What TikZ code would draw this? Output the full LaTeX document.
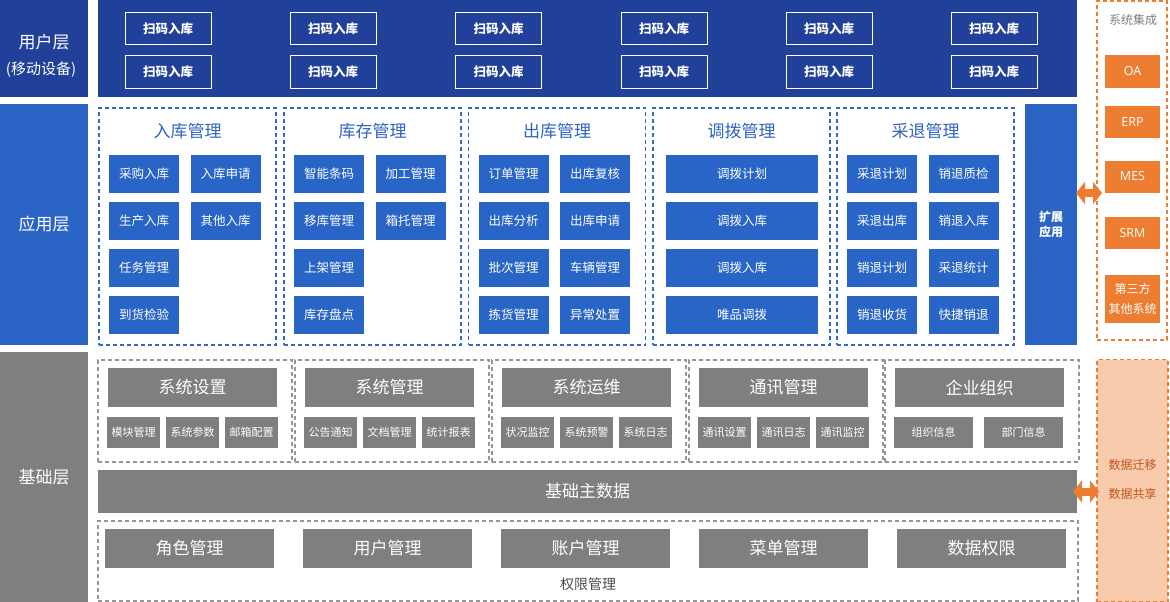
\documentclass[tikz,border=0pt]{standalone}
\usepackage{fontspec}
\setmainfont{Noto Sans CJK SC}
\newfontfamily\latinsf{Open Sans}
\usetikzlibrary{arrows.meta}
\definecolor{udark}{RGB}{33,64,154}
\definecolor{appblue}{RGB}{42,100,197}
\definecolor{boxblue}{RGB}{41,101,198}
\definecolor{titleblue}{RGB}{46,100,192}
\definecolor{dashblue}{RGB}{50,105,195}
\definecolor{basegray}{RGB}{127,127,127}
\definecolor{dashgray}{RGB}{150,150,150}
\definecolor{orng}{RGB}{237,125,49}
\definecolor{lorng}{RGB}{248,203,173}
\definecolor{brown}{RGB}{192,86,26}
\newcommand{\fsz}[1]{\fontsize{#1}{#1}\selectfont}
\tikzset{
  every node/.style={inner sep=0pt, outer sep=0pt},
  layer/.style={fill=#1, draw=none},
  lbltext/.style={text=white, font=\fsz{17}},
  ubtn/.style={draw=white, line width=1pt, minimum width=86pt, minimum height=32pt, text=white, font=\fsz{12.5}\bfseries},
  grp/.style={draw=dashblue, line width=1.2pt, dash pattern=on 4pt off 3pt, minimum width=177pt, minimum height=237pt},
  gtitle/.style={text=titleblue, font=\fsz{17}},
  abox/.style={fill=boxblue, minimum width=70pt, minimum height=38pt, text=white, font=\fsz{12.5}},
  wbox/.style={abox, minimum width=152pt},
  bgrp/.style={draw=dashgray, line width=1.2pt, dash pattern=on 4pt off 3pt, minimum width=194pt, minimum height=102pt},
  bhead/.style={fill=basegray, minimum width=169pt, minimum height=39pt, text=white, font=\fsz{17}},
  bsub/.style={fill=basegray, minimum width=53pt, minimum height=31pt, text=white, font=\fsz{11}},
  obox/.style={fill=orng, minimum width=55pt, minimum height=32pt, text=white, font=\fsz{12}},
  darrow/.style={draw=orng, line width=8pt, {Triangle[width=22pt,length=9pt]}-{Triangle[width=22pt,length=9pt]}},
}
\begin{document}
\begin{tikzpicture}[x=1pt,y=-1pt]
\useasboundingbox (0,0) rectangle (1170,602);
% left layer labels
\node[layer=udark, minimum width=88pt, minimum height=97pt] (lu) at (44,48.5) {};
\node[lbltext] (lu1) at (44,42) {用户层};
\node[text=white, font=\fsz{15}] (lu2) at (41,70) {(移动设备)};
\node[layer=appblue, minimum width=88pt, minimum height=241pt] (la) at (44,224.5) {};
\node[lbltext] (la1) at (44,224.5) {应用层};
\node[layer=basegray, minimum width=88pt, minimum height=250pt] (lb) at (44,477) {};
\node[lbltext] (lb1) at (44,477) {基础层};
% user layer
\node[layer=udark, minimum width=979pt, minimum height=97pt] (ub) at (587.5,48.5) {};
\foreach \x [count=\i] in {168,333,498.5,664,829,994} {
  \node[ubtn] (ua\i) at (\x,29) {扫码入库};
  \node[ubtn] (ub\i) at (\x,72) {扫码入库};
}
% application layer groups
\foreach \x/\t [count=\g] in {99/入库管理,284/库存管理,468.5/出库管理,653/调拨管理,837/采退管理} {
  \node[grp] (g\g) at (\x+88.5,226.5) {};
  \node[gtitle] (gt\g) at (\x+88.5,131) {\t};
}
\foreach \t [count=\r] in {采购入库,生产入库,任务管理,到货检验} \node[abox] (a1l\r) at (144,126.5+47*\r) {\t};
\foreach \t [count=\r] in {入库申请,其他入库} \node[abox] (a1r\r) at (225.5,126.5+47*\r) {\t};
\foreach \t [count=\r] in {智能条码,移库管理,上架管理,库存盘点} \node[abox] (a2l\r) at (329,126.5+47*\r) {\t};
\foreach \t [count=\r] in {加工管理,箱托管理} \node[abox] (a2r\r) at (410.5,126.5+47*\r) {\t};
\foreach \t [count=\r] in {订单管理,出库分析,批次管理,拣货管理} \node[abox] (a3l\r) at (513.5,126.5+47*\r) {\t};
\foreach \t [count=\r] in {出库复核,出库申请,车辆管理,异常处置} \node[abox] (a3r\r) at (595,126.5+47*\r) {\t};
\foreach \t [count=\r] in {调拨计划,调拨入库,调拨入库,唯品调拨} \node[wbox] (a4\r) at (742,126.5+47*\r) {\t};
\foreach \t [count=\r] in {采退计划,采退出库,销退计划,销退收货} \node[abox] (a5l\r) at (882,126.5+47*\r) {\t};
\foreach \t [count=\r] in {销退质检,销退入库,采退统计,快捷销退} \node[abox] (a5r\r) at (963.5,126.5+47*\r) {\t};
% extension
\node[layer=appblue, minimum width=52pt, minimum height=241pt, text=white, font=\fsz{12}\bfseries, align=center] (ext) at (1051,224.5) {扩展\\[3pt]应用};
% system integration
\node[draw=orng, line width=1.2pt, dash pattern=on 4pt off 3pt, minimum width=70pt, minimum height=339pt] (sys) at (1132,170.5) {};
\node[text=basegray, font=\fsz{12}] (syst) at (1133,20) {系统集成};
\node[obox, font=\latinsf\fsz{12.5}] (oa) at (1132.5,71.5) {OA};
\node[obox, font=\latinsf\fsz{12.5}] (erp) at (1132.5,122) {ERP};
\node[obox, font=\latinsf\fsz{12.5}] (mes) at (1132.5,176.5) {MES};
\node[obox, font=\latinsf\fsz{12.5}] (srm) at (1132.5,233) {SRM};
\node[obox, minimum height=48pt, align=center] (oth) at (1132.5,299) {第三方\\[8pt]其他系统};
\draw[darrow, shorten <=-1pt, shorten >=-5pt] (ext.east |- 0,193) -- (sys.west |- 0,193);
% base layer groups
\foreach \x/\t [count=\g] in {98/系统设置,295/系统管理,492/系统运维,689/通讯管理,885/企业组织} {
  \node[bgrp] (bg\g) at (\x+97,411) {};
  \node[bhead] (bh\g) at (\x+94.5,387.5) {\t};
}
\foreach \t [count=\k] in {模块管理,系统参数,邮箱配置} \node[bsub] (b1s\k) at (98+35.5+59*\k-59,432.5) {\t};
\foreach \t [count=\k] in {公告通知,文档管理,统计报表} \node[bsub] (b2s\k) at (295+35.5+59*\k-59,432.5) {\t};
\foreach \t [count=\k] in {状况监控,系统预警,系统日志} \node[bsub] (b3s\k) at (492+35.5+59*\k-59,432.5) {\t};
\foreach \t [count=\k] in {通讯设置,通讯日志,通讯监控} \node[bsub] (b4s\k) at (689+35.5+59*\k-59,432.5) {\t};
\node[bsub, minimum width=79pt] (b5s1) at (933.5,432.5) {组织信息};
\node[bsub, minimum width=79pt] (b5s2) at (1023.5,432.5) {部门信息};
% master data bar
\node[layer=basegray, minimum width=979pt, minimum height=43pt, text=white, font=\fsz{17}] (bar) at (587.5,491.5) {基础主数据};
% permissions
\node[draw=dashgray, line width=1.2pt, dash pattern=on 4pt off 3pt, minimum width=980pt, minimum height=80pt] (perm) at (588,561) {};
\foreach \x/\t [count=\k] in {189.5/角色管理,387.5/用户管理,585.5/账户管理,783.5/菜单管理,981.5/数据权限}
  \node[bhead] (p\k) at (\x,548) {\t};
\node[text=basegray!60!black, font=\fsz{14}] (permt) at (588,584) {权限管理};
% data box
\node[fill=lorng, draw=orng, line width=1.2pt, dash pattern=on 4pt off 3pt, minimum width=71pt, minimum height=242pt] (data) at (1132.5,480.5) {};
\node[text=brown, font=\fsz{12}] (d1) at (1132.5,465) {数据迁移};
\node[text=brown, font=\fsz{12}] (d2) at (1132.5,494) {数据共享};
\draw[darrow, shorten <=-4pt, shorten >=-2pt] (bar.east) -- (data.west |- bar.east);
\end{tikzpicture}
\end{document}
